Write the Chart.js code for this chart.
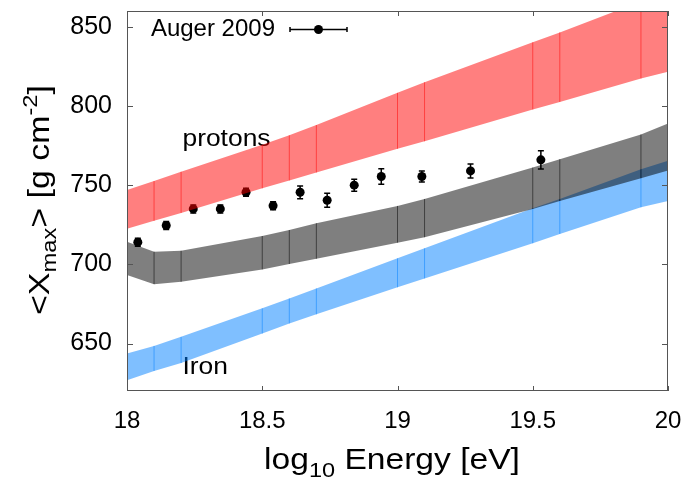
<!DOCTYPE html>
<html>
<head>
<meta charset="utf-8">
<script src="https://cdn.jsdelivr.net/npm/chart.js@4"></script>
<style>
  html, body { margin: 0; padding: 0; background: #fff; }
  #wrap { width: 689px; height: 484px; }
</style>
</head>
<body>
<div id="wrap"><canvas id="xmaxChart" width="689" height="484"></canvas></div>
<script>
// ── Data ────────────────────────────────────────────────────────────────
const energyKnots  = [18.0, 18.1, 18.2, 18.5, 18.6, 18.7, 19.0, 19.1, 19.5, 19.6, 19.9, 20.0];
const protonUpper  = [747, 752.6, 758.5, 775.5, 781.5, 788, 808.3, 815, 840.2, 846.5, 866, 872];
const protonLower  = [722.5, 727.5, 732.5, 748, 753, 758, 773, 777.7, 797.8, 802.6, 817.4, 821.6];
const mixedUpper   = [714.3, 708, 708.6, 717.9, 721.7, 726, 736.9, 741.3, 761.1, 766.4, 782, 789];
const mixedLower   = [693.2, 687.5, 689, 696.8, 700.2, 703.5, 713.7, 717.1, 735, 740, 754.4, 759.2];
const ironUpper    = [643.7, 648.5, 654.2, 672.2, 678.5, 684.8, 703.8, 710.1, 735.4, 741.2, 760, 765.4];
const ironLower    = [626.8, 632.7, 637.7, 656.3, 662.7, 668.4, 685.5, 691.1, 713.3, 719.2, 736, 740];

const augerEnergy  = [18.04, 18.145, 18.245, 18.345, 18.44, 18.54, 18.64, 18.74, 18.84, 18.94, 19.09, 19.27, 19.53];
const augerXmax    = [714, 724.5, 735, 735, 745.5, 737, 745.5, 740.5, 750, 755.5, 755.5, 759, 766];
const augerErr     = [2.5, 2.5, 2.5, 2.5, 2.5, 2.5, 4, 4.4, 3.8, 4.9, 3.5, 4.4, 5.8];

const xTicks = [18, 18.5, 19, 19.5, 20];
const yTicks = [650, 700, 750, 800, 850];

// ── Helpers ─────────────────────────────────────────────────────────────
const FONT = "'Liberation Sans', Arial, Helvetica, sans-serif";
const pairs = (xs, ys) => xs.map((x, i) => ({ x, y: ys[i] }));

function knotLines(lo, hi) {
    const pts = [];
    energyKnots.forEach((x, i) => {
        if (i === 0 || i === energyKnots.length - 1) return;
        pts.push({ x, y: lo[i] }, { x, y: hi[i] }, { x, y: null });
    });
    return pts;
}

function band(lo, hi, color, order) {
    return [
        { data: pairs(energyKnots, lo), borderWidth: 0, borderColor: 'transparent', pointRadius: 0, fill: false, order },
        { data: pairs(energyKnots, hi), borderWidth: 0, borderColor: 'transparent', pointRadius: 0, fill: '-1', backgroundColor: color, order },
        { data: knotLines(lo, hi), borderWidth: 1, borderColor: color, pointRadius: 0, fill: false, spanGaps: false, order: order - 1 }
    ];
}

// text made of pieces (sub/superscripts), slightly widened like the original
function richText(ctx, parts, x, y, sx) {
    let total = 0;
    parts.forEach(p => { ctx.font = `${p.size}px ${FONT}`; p.w = ctx.measureText(p.t).width * sx; total += p.w; });
    let cx = x - total / 2;
    parts.forEach(p => {
        ctx.font = `${p.size}px ${FONT}`;
        ctx.save();
        ctx.translate(cx, y + (p.dy || 0));
        ctx.scale(sx, 1);
        ctx.fillText(p.t, 0, 0);
        ctx.restore();
        cx += p.w;
    });
}

// ── Plugins ─────────────────────────────────────────────────────────────
const underlay = {
    id: 'underlay',
    beforeDatasetsDraw(chart) {
        const { ctx, scales: { x, y } } = chart;
        ctx.save();
        // error bars
        ctx.strokeStyle = '#000';
        ctx.lineWidth = 1.5;
        augerEnergy.forEach((e, i) => {
            const px = x.getPixelForValue(e);
            const top = y.getPixelForValue(augerXmax[i] + augerErr[i]);
            const bot = y.getPixelForValue(augerXmax[i] - augerErr[i]);
            ctx.beginPath();
            ctx.moveTo(px, top); ctx.lineTo(px, bot);
            ctx.moveTo(px - 3, top); ctx.lineTo(px + 3, top);
            ctx.moveTo(px - 3, bot); ctx.lineTo(px + 3, bot);
            ctx.stroke();
        });
        // band labels
        ctx.fillStyle = '#000';
        ctx.textBaseline = 'alphabetic';
        ctx.textAlign = 'left';
        [['protons', 18.205, 774.7], ['Iron', 18.205, 630.7]].forEach(([t, ex, ey]) => {
            ctx.save();
            ctx.translate(x.getPixelForValue(ex), y.getPixelForValue(ey));
            ctx.scale(1.1, 1);
            ctx.font = `24px ${FONT}`;
            ctx.fillText(t, 0, 0);
            ctx.restore();
        });
        ctx.restore();
    },
    afterDraw(chart) {
        const { ctx, chartArea: a, scales: { x, y } } = chart;
        ctx.save();
        // frame + inward ticks on all four sides
        ctx.strokeStyle = '#555';
        ctx.lineWidth = 1;
        ctx.strokeRect(a.left + 0.5, a.top + 0.5, a.right - a.left - 1, a.bottom - a.top - 1);
        ctx.beginPath();
        yTicks.forEach(v => {
            const py = Math.round(y.getPixelForValue(v)) + 0.5;
            ctx.moveTo(a.left, py); ctx.lineTo(a.left + 6, py);
            ctx.moveTo(a.right, py); ctx.lineTo(a.right - 6, py);
        });
        xTicks.forEach(v => {
            const px = Math.round(x.getPixelForValue(v)) + 0.5;
            ctx.moveTo(px, a.bottom); ctx.lineTo(px, a.bottom - 5);
            ctx.moveTo(px, a.top); ctx.lineTo(px, a.top + 5);
        });
        ctx.stroke();

        // legend
        ctx.fillStyle = '#000';
        ctx.textAlign = 'left';
        ctx.textBaseline = 'alphabetic';
        ctx.font = `24px ${FONT}`;
        const lw = ctx.measureText('Auger 2009').width;
        ctx.fillText('Auger 2009', 275 - lw, 36);
        ctx.strokeStyle = '#000';
        ctx.lineWidth = 1.5;
        ctx.beginPath();
        ctx.moveTo(290, 29.5); ctx.lineTo(347, 29.5);
        ctx.moveTo(290, 27); ctx.lineTo(290, 32);
        ctx.moveTo(347, 27); ctx.lineTo(347, 32);
        ctx.stroke();
        ctx.beginPath();
        ctx.arc(318.5, 29.5, 4.5, 0, Math.PI * 2);
        ctx.fill();

        // axis titles
        richText(ctx, [
            { t: 'log', size: 30 },
            { t: '10', size: 21, dy: 8 },
            { t: ' Energy [eV]', size: 30 }
        ], 392, 469, 1.12);

        ctx.save();
        ctx.translate(49, (a.top + a.bottom) / 2 - 1);
        ctx.rotate(-Math.PI / 2);
        richText(ctx, [
            { t: '<X', size: 30 },
            { t: 'max', size: 21, dy: 7 },
            { t: '> [g cm', size: 30 },
            { t: '-2', size: 21, dy: -12 },
            { t: ']', size: 30 }
        ], 0, 0, 1.13);
        ctx.restore();
        ctx.restore();
    }
};

// ── Chart ───────────────────────────────────────────────────────────────
const ctx = document.getElementById('xmaxChart');
new Chart(ctx, {
    type: 'line',
    data: {
        datasets: [
            { data: pairs(augerEnergy, augerXmax), showLine: false, pointRadius: 4.5, pointBackgroundColor: '#000', pointBorderWidth: 0, order: 10 },
            ...band(ironLower, ironUpper, 'rgba(0,128,255,0.5)', 7),
            ...band(mixedLower, mixedUpper, 'rgba(0,0,0,0.5)', 5),
            ...band(protonLower, protonUpper, 'rgba(255,0,0,0.5)', 3)
        ]
    },
    options: {
        responsive: false,
        animation: false,
        events: [],
        layout: { padding: { left: 0, right: 21, top: 11, bottom: 0 } },
        plugins: { legend: { display: false }, tooltip: { enabled: false } },
        elements: { line: { tension: 0 } },
        scales: {
            x: {
                type: 'linear', min: 18, max: 20,
                afterBuildTicks: s => { s.ticks = xTicks.map(value => ({ value })); },
                afterFit: s => { s.height = 93; s.paddingLeft = 0; s.paddingRight = 0; },
                grid: { display: false, drawTicks: false },
                border: { display: false },
                ticks: { color: '#000', padding: 16, maxRotation: 0, autoSkip: false, font: { family: FONT, size: 24 }, callback: v => String(v) }
            },
            y: {
                type: 'linear', min: 620, max: 860,
                afterBuildTicks: s => { s.ticks = yTicks.map(value => ({ value })); },
                afterFit: s => { s.width = 127; s.paddingTop = 0; s.paddingBottom = 0; },
                grid: { display: false, drawTicks: false },
                border: { display: false },
                ticks: { color: '#000', padding: 15, font: { family: FONT, size: 25 }, callback: v => String(v) }
            }
        }
    },
    plugins: [underlay]
});
</script>
</body>
</html>
